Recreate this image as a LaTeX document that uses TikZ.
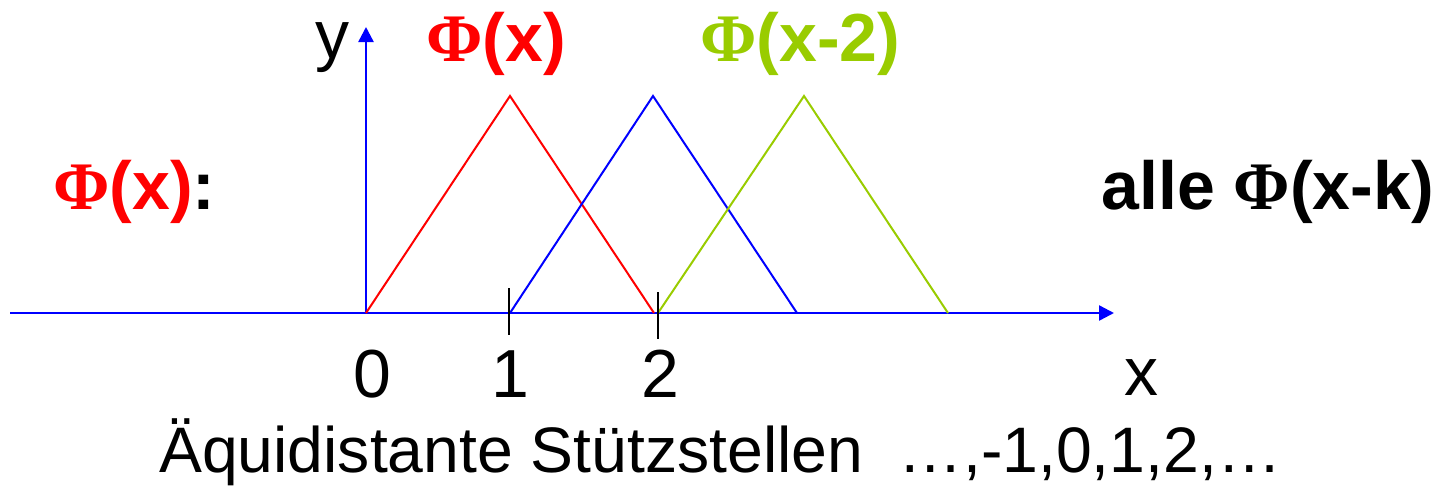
\documentclass[tikz,border=0pt]{standalone}
\usepackage{fontspec}
\setmainfont{Liberation Sans}
\newfontfamily\phifont{Liberation Serif}
\usetikzlibrary{arrows.meta}
\definecolor{phired}{RGB}{255,0,0}
\definecolor{phiblue}{RGB}{0,0,255}
\definecolor{phigreen}{RGB}{153,204,0}
\newcommand{\Ph}{{\phifont\bfseries\char"03A6}}
\tikzset{
  axis/.style={draw=phiblue, line width=2.4pt, -{Triangle[length=15pt,width=15pt]}},
  hat/.style={line width=2pt, line join=miter},
  tick/.style={draw=black, line width=2pt},
  lbl/.style={inner sep=0pt, anchor=base west, font=\fontsize{68}{80}\selectfont},
  blbl/.style={lbl, font=\fontsize{68}{80}\selectfont\bfseries},
}
\begin{document}
\begin{tikzpicture}[x=1pt,y=-1pt]
\useasboundingbox (0,0) rectangle (1441,488);
% axes
\coordinate (xs) at (10,313);
\coordinate (xe) at (1114,313);
\coordinate (o) at (366,313);
\coordinate (ye) at (366,27);
\draw[axis] (xs) -- (xe);
\draw[axis] (o) -- (ye);
% triangles
\coordinate (r0) at (366,313); \coordinate (r1) at (510,96); \coordinate (r2) at (654,313);
\coordinate (b0) at (510,313); \coordinate (b1) at (653,96); \coordinate (b2) at (797,313);
\coordinate (g0) at (658,313); \coordinate (g1) at (804,96); \coordinate (g2) at (948,313);
\draw[hat, phired] (r0) -- (r1) -- (r2);
\draw[hat, phiblue] (b0) -- (b1) -- (b2);
\draw[hat, phigreen] (g0) -- (g1) -- (g2);
% ticks
\coordinate (t1a) at (509,288); \coordinate (t1b) at (509,335);
\coordinate (t2a) at (658,292); \coordinate (t2b) at (658,339);
\draw[tick] (t1a) -- (t1b);
\draw[tick] (t2a) -- (t2b);
% labels
\node[lbl, anchor=base] (ly) at (332,58) {y};
\node[lbl, anchor=base] (lx) at (1141,395) {x};
\node[lbl, anchor=base] (l0) at (372,397) {0};
\node[lbl, anchor=base] (l1) at (510,397) {1};
\node[lbl, anchor=base] (l2) at (660,397) {2};
\node[blbl, text=phired] (px) at (426,61) {\Ph(x)};
\node[blbl, text=phigreen] (px2) at (700,61) {\Ph(x-2)};
\node[blbl] (pxl) at (53,209) {\textcolor{phired}{\Ph(x)}:};
\node[blbl, anchor=base east] (all) at (1434,209) {alle \Ph(x-k)};
\node[lbl, font=\fontsize{64.3}{76}\selectfont] (bot) at (159,472) {Äquidistante Stützstellen\ \ …,-1,0,1,2,…};
\end{tikzpicture}
\end{document}
